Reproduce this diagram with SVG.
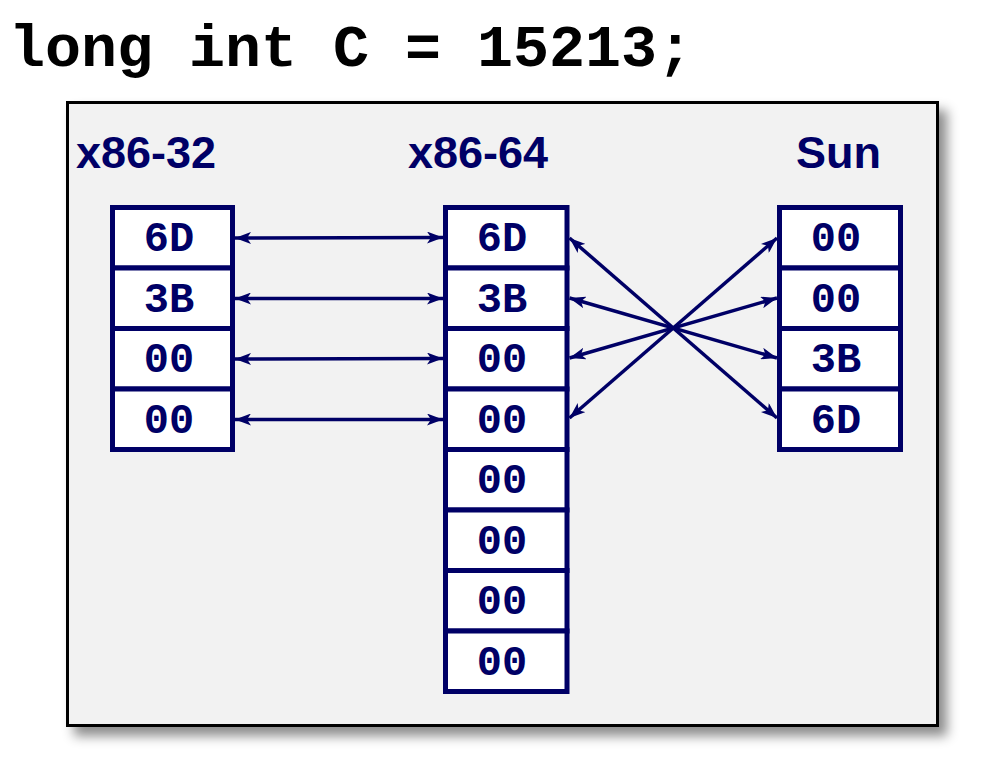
<svg xmlns="http://www.w3.org/2000/svg" width="986" height="778" viewBox="0 0 986 778">
<style>
.title{font-family:"Liberation Mono","Courier New",monospace;font-weight:bold;font-size:60px;fill:#000}
.hdr{font-family:"Liberation Sans",Arial,sans-serif;font-weight:bold;font-size:45px;fill:#000066}
.cell rect{fill:#fff;stroke:#000066;stroke-width:5}
.cell text{font-family:"Liberation Mono","Courier New",monospace;font-weight:bold;font-size:42px;fill:#000066;text-anchor:middle}
.conn line{stroke:#000066;stroke-width:3.5;marker-start:url(#ah);marker-end:url(#ah)}
</style>
<defs>
<filter id="sh" x="-5%" y="-5%" width="115%" height="115%">
<feDropShadow dx="8" dy="9" stdDeviation="6" flood-color="#000" flood-opacity="0.45"/>
</filter>
<marker id="ah" viewBox="0 0 16 12" refX="16" refY="6" markerWidth="16" markerHeight="12" markerUnits="userSpaceOnUse" orient="auto-start-reverse">
<path d="M0,0 L16,6 L0,12 L4,6 Z" fill="#000066"/>
</marker>
</defs>
<rect width="986" height="778" fill="#fff"/>
<text class="title" x="9" y="66">long int C = 15213;</text>
<g id="panel">
<rect x="67.5" y="102.5" width="870" height="623" fill="#f2f2f2" stroke="#000" stroke-width="3" filter="url(#sh)"/>
</g>
<g id="hdr-x86-32"><text class="hdr" x="76" y="168">x86-32</text></g>
<g id="hdr-x86-64"><text class="hdr" x="408" y="168">x86-64</text></g>
<g id="hdr-sun"><text class="hdr" x="796" y="168">Sun</text></g>

<g id="x86-32" class="cell">
<rect x="112.5" y="207.5" width="120" height="60.5"/>
<rect x="112.5" y="268" width="120" height="60.5"/>
<rect x="112.5" y="328.5" width="120" height="60.5"/>
<rect x="112.5" y="389" width="120" height="60.5"/>
<text x="169" y="251">6D</text>
<text x="169" y="311.5">3B</text>
<text x="169" y="372">00</text>
<text x="169" y="432.5">00</text>
</g>

<g id="x86-64" class="cell">
<rect x="445.5" y="207.5" width="121.5" height="60.5"/>
<rect x="445.5" y="268" width="121.5" height="60.5"/>
<rect x="445.5" y="328.5" width="121.5" height="60.5"/>
<rect x="445.5" y="389" width="121.5" height="60.5"/>
<rect x="445.5" y="449.5" width="121.5" height="60.5"/>
<rect x="445.5" y="510" width="121.5" height="60.5"/>
<rect x="445.5" y="570.5" width="121.5" height="60.5"/>
<rect x="445.5" y="631" width="121.5" height="60.5"/>
<text x="502" y="251">6D</text>
<text x="502" y="311.5">3B</text>
<text x="502" y="372">00</text>
<text x="502" y="432.5">00</text>
<text x="502" y="493">00</text>
<text x="502" y="553.5">00</text>
<text x="502" y="614">00</text>
<text x="502" y="674.5">00</text>
</g>

<g id="sun" class="cell">
<rect x="779.5" y="207.5" width="121" height="60.5"/>
<rect x="779.5" y="268" width="121" height="60.5"/>
<rect x="779.5" y="328.5" width="121" height="60.5"/>
<rect x="779.5" y="389" width="121" height="60.5"/>
<text x="836" y="251">00</text>
<text x="836" y="311.5">00</text>
<text x="836" y="372">3B</text>
<text x="836" y="432.5">6D</text>
</g>

<g id="connectors" class="conn">
<line x1="235" y1="238" x2="443" y2="237.5"/>
<line x1="235" y1="298.5" x2="443" y2="298.5"/>
<line x1="235" y1="359" x2="443" y2="358.5"/>
<line x1="235" y1="419.5" x2="443" y2="419.5"/>
<line x1="569.5" y1="238" x2="777" y2="418"/>
<line x1="569.5" y1="298" x2="777" y2="358"/>
<line x1="569.5" y1="358" x2="777" y2="298"/>
<line x1="569.5" y1="418" x2="777" y2="238"/>
</g>
</svg>
